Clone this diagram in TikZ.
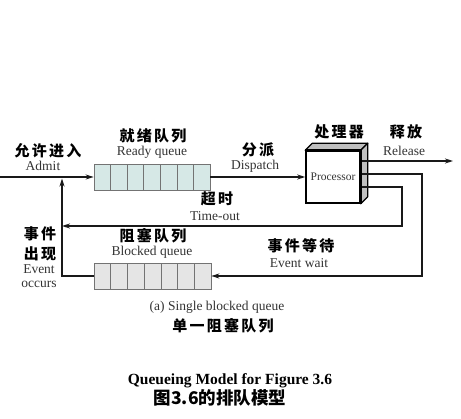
\documentclass[tikz,border=0pt]{standalone}
\usepackage{fontspec}
\setmainfont{Liberation Serif}
\newfontfamily\cjk{Noto Sans CJK SC}
\newfontfamily\cjks{Noto Sans CJK SC}[LetterSpace=15]
\usetikzlibrary{arrows.meta,calc}
\tikzset{
  flow/.style={line width=1.5pt,draw=black!90},
  arr/.style={flow,-{Stealth[length=8pt,width=5pt]}},
  queuebox/.style={draw=black!55,line width=0.7pt,minimum width=116pt,minimum height=26pt,inner sep=0pt},
  cell/.style={draw=black!55,line width=0.7pt},
  zh/.style={font=\cjks\bfseries\fontsize{15}{17}\selectfont,inner sep=0pt,text=black},
  en/.style={font=\fontsize{13.5}{15}\selectfont,inner sep=0pt,text=black!80},
  procbox/.style={draw=black,line width=1.5pt,fill=white,minimum width=54pt,minimum height=52pt,inner sep=0pt,font=\fontsize{11.5}{13}\selectfont,text=black!80},
  face/.style={draw=black,line width=1.2pt,fill=black!25,line join=round},
}
\begin{document}
\begin{tikzpicture}[x=1pt,y=-1pt]
\useasboundingbox (0,0) rectangle (461,419);
% queues
\node[queuebox,fill={rgb,255:red,214;green,232;blue,230}] (ready) at (152,177) {};
\foreach \i in {1,...,6}
  \draw[cell] ($(ready.south west)!\i/7!(ready.south east)$) -- ($(ready.north west)!\i/7!(ready.north east)$);
\node[queuebox,minimum width=117pt,fill=black!10] (blocked) at (152.5,276) {};
\foreach \i in {1,...,6}
  \draw[cell] ($(blocked.south west)!\i/7!(blocked.south east)$) -- ($(blocked.north west)!\i/7!(blocked.north east)$);
% processor
\node[procbox] (proc) at (333,177) {Processor};
\draw[face] (proc.north west) -- ++(7,-7) -- ($(proc.north east)+(7,-7)$) -- (proc.north east) -- cycle;
\draw[face] (proc.north east) -- ++(7,-7) -- ($(proc.south east)+(7,-7)$) -- (proc.south east) -- cycle;
\draw[line width=1.5pt] (proc.north west) rectangle (proc.south east);
% coordinates
\coordinate (in) at (0,177);
\coordinate (relS) at (362,161);
\coordinate (relE) at (453,161);
\coordinate (ewS) at (362,174);
\coordinate (ewA) at (422,174);
\coordinate (ewB) at (422,276);
\coordinate (toS) at (362,187);
\coordinate (toA) at (402,187);
\coordinate (toB) at (402,226);
\coordinate (toE) at (62,226);
\coordinate (eoA) at (62,276);
\coordinate (eoE) at (62,178.5);
% connectors
\draw[arr] (in) -- (ready.west);
\draw[arr] (ready.east) -- (proc.west);
\draw[arr] (relS) -- (relE);
\draw[arr] (toS) -- (toA) -- (toB) -- (toE);
\draw[arr] (ewS) -- (ewA) -- (ewB) -- (blocked.east);
\draw[arr] (blocked.west) -- (eoA) -- (eoE);
% labels
\node[zh] (lAdmitZ) at (48,151) {允许进入};
\node[en] (lAdmit) at (43,166) {Admit};
\node[zh] (lReadyZ) at (153,136) {就绪队列};
\node[en] (lReady) at (152,152) {Ready queue};
\node[zh] (lDispZ) at (258,150) {分派};
\node[en] (lDisp) at (255,166) {Dispatch};
\node[zh] (lProcZ) at (339,132) {处理器};
\node[zh] (lRelZ) at (406,132) {释放};
\node[en] (lRel) at (404,151) {Release};
\node[zh] (lToZ) at (217,199) {超时};
\node[en] (lTo) at (215,216) {Time-out};
\node[zh] (lBlkZ) at (153,236) {阻塞队列};
\node[en] (lBlk) at (152,252) {Blocked queue};
\node[zh] (lEwZ) at (301,246) {事件等待};
\node[en] (lEw) at (299,263) {Event wait};
\node[zh] (lEo1) at (40,234) {事件};
\node[zh] (lEo2) at (40,254) {出现};
\node[en] (lEo3) at (39,269) {Event};
\node[en] (lEo4) at (39,284) {occurs};
\node[en] (cap1) at (217,307) {(a) Single blocked queue};
\node[zh] (cap2) at (223,326) {单一阻塞队列};
\node[font=\bfseries\fontsize{15.5}{17}\selectfont,inner sep=0pt] (title1) at (230,381) {Queueing Model for Figure 3.6};
\node[font=\cjk\bfseries\fontsize{17.5}{19}\selectfont,inner sep=0pt] (title2) at (220,398) {图3.6的排队模型};
\end{tikzpicture}
\end{document}
